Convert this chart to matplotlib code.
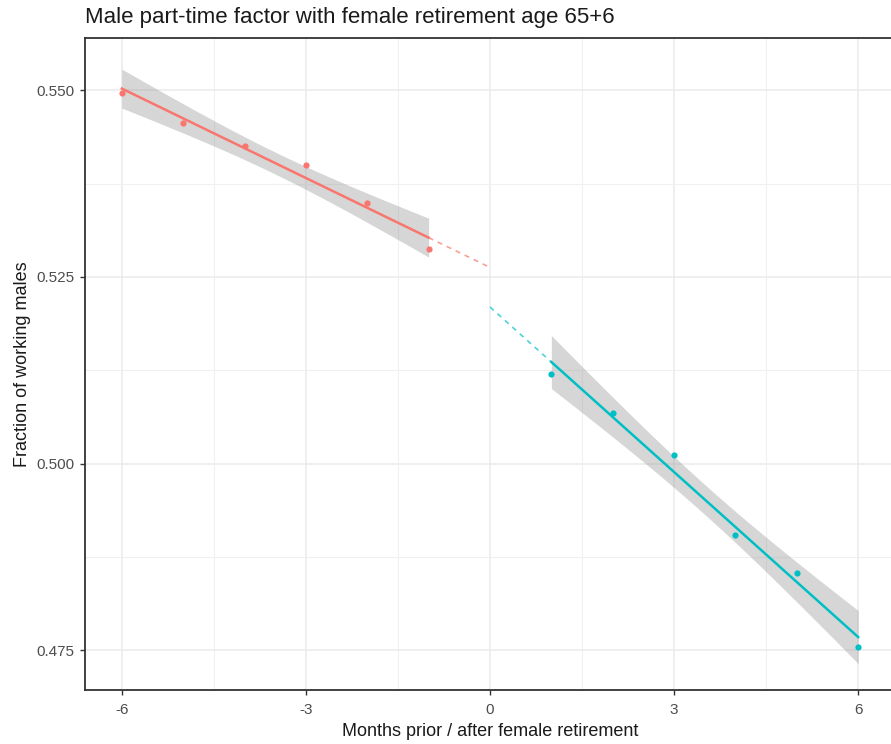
import numpy as np
import matplotlib
matplotlib.use("Agg")
import matplotlib.pyplot as plt

plt.rcParams['font.family'] = ['Liberation Sans', 'DejaVu Sans']

# ---- data ----
months_before = [-6, -5, -4, -3, -2, -1]
frac_before = [0.5497, 0.5456, 0.5426, 0.5400, 0.5349, 0.5287]
months_after = [1, 2, 3, 4, 5, 6]
frac_after = [0.5120, 0.5068, 0.5012, 0.4904, 0.4853, 0.4755]

x_ticks = [-6, -3, 0, 3, 6]
y_ticks = [0.475, 0.500, 0.525, 0.550]

red = '#F8766D'
cyan = '#00BFC4'
t975 = 2.776  # t quantile, df = 4


def lm_band(x, y, xs):
    x = np.asarray(x, float)
    y = np.asarray(y, float)
    b, a = np.polyfit(x, y, 1)
    resid = y - (a + b * x)
    s = np.sqrt(np.sum(resid ** 2) / (len(x) - 2))
    sxx = np.sum((x - x.mean()) ** 2)
    se = s * np.sqrt(1 / len(x) + (xs - x.mean()) ** 2 / sxx)
    fit = a + b * xs
    return a, b, fit, fit - t975 * se, fit + t975 * se


fig = plt.figure(figsize=(8.91, 7.44), dpi=100)
ax = fig.add_axes([0.0954, 0.0726, 0.9091, 0.8763])

for xs_, ys_, col, ext in [(months_before, frac_before, red, (-1, 0)),
                            (months_after, frac_after, cyan, (0, 1))]:
    xs = np.linspace(min(xs_), max(xs_), 80)
    a, b, fit, lo, hi = lm_band(xs_, ys_, xs)
    ax.fill_between(xs, lo, hi, color='#999999', alpha=0.4, lw=0, zorder=2)
    ax.plot(xs, fit, color=col, lw=1.8, zorder=3)
    xe = np.array(ext, float)
    ax.plot(xe, a + b * xe, color=col, lw=1.2, ls=(0, (3, 3)), alpha=0.7, zorder=3)
    ax.scatter(xs_, ys_, color=col, s=20, zorder=4, lw=0)

ax.set_xlim(-6.6, 6.6)
ax.set_ylim(0.4697, 0.5570)
ax.set_xticks(x_ticks)
ax.set_xticklabels([str(v) for v in x_ticks])
ax.set_yticks(y_ticks)
ax.set_yticklabels([f'{v:.3f}' for v in y_ticks])
ax.set_xticks([-4.5, -1.5, 1.5, 4.5], minor=True)
ax.set_yticks([0.4875, 0.5125, 0.5375], minor=True)

ax.grid(True, which='major', color='#EBEBEB', lw=1.1, zorder=0)
ax.grid(True, which='minor', color='#F0F0F0', lw=0.8, zorder=0)
ax.set_axisbelow(True)

for sp in ax.spines.values():
    sp.set_color('#333333')
    sp.set_linewidth(1.3)

ax.tick_params(which='major', length=3.5, width=1, color='#333333',
               labelsize=11, labelcolor='#4D4D4D', pad=4)
ax.tick_params(axis='x', which='major', pad=6)
ax.tick_params(which='minor', length=0)

ax.set_xlabel('Months prior / after female retirement', fontsize=13,
              color='#1A1A1A', labelpad=4)
ax.set_ylabel('Fraction of working males', fontsize=13,
              color='#1A1A1A', labelpad=4)
fig.text(0.0954, 0.976, 'Male part-time factor with female retirement age 65+6',
         fontsize=16, color='#1A1A1A', ha='left', va='center')

fig.savefig('out.png', dpi=100)
